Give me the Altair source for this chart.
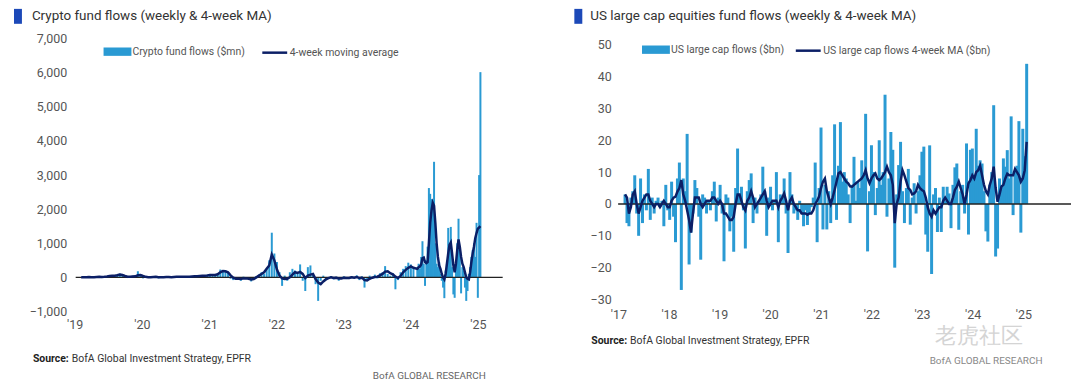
import altair as alt
import pandas as pd

FONT = "Roboto"
BAR_BLUE = "#2a9ad3"
MA_NAVY = "#0b1f66"
SQ_BLUE = "#1c49b8"

# ---------------- Crypto fund flows ($mn) ----------------
# biweekly 2019-2023, weekly 2024
crypto_2019 = [10, -15, 20, 5, -10, 15, 25, 10, -20, 30, 40, 70, 30, 60, 90, 110, 50, 20, -20, 30, 50, 20, 180, 40, -30, 10]
crypto_2020 = [-10, 20, 10, 30, -30, 10, 0, 20, 10, -10, 20, 30, 10, 20, 30, 10, 40, 20, 30, 50, 30, 60, 40, 80, 100, 60]
crypto_2021 = [60, 120, 230, 180, 200, 150, -40, -80, -60, -20, -100, 20, -50, -30, -120, -60, 40, 80, 150, 100, 250, 500, 1310, 700, 450, 150]
crypto_2022 = [-250, 50, -100, 150, 250, 200, 100, 380, -100, -400, 300, 350, 100, -200, -690, -100, 50, -80, -30, 40, -60, 20, -100, -40, 30, -50]
crypto_2023 = [-50, 40, -30, 60, -80, 30, -300, -60, 50, -40, 80, -30, 120, 150, 330, 100, 50, 120, -350, -80, 150, 250, 330, 430, 380, 300]
crypto_2024 = [300, 400, 250, 600, 1060, 400, -250, 500, 900, 2620, 2450, 2300, 2000, 3390, 1000, 400, 300, 450, 100, -100,
               -300, -610, 200, 400, 1450, 1000, 1480, 300, -500, -600, 400, 1000, 1720, 900, -470, 300, 200, -300, -690, -400,
               100, 300, 600, 800, 1000, 600, 1600, -600, 3000, 6020]

crypto_ma_2019 = [5, 0, 5, 10, 5, 5, 10, 15, 10, 15, 25, 40, 45, 50, 60, 80, 70, 40, 20, 15, 25, 30, 60, 70, 40, 15]
crypto_ma_2020 = [5, 5, 10, 15, 5, 5, 5, 10, 10, 5, 10, 15, 15, 20, 20, 15, 20, 25, 30, 35, 40, 45, 45, 55, 70, 70]
crypto_ma_2021 = [70, 90, 150, 185, 180, 150, 60, -10, -40, -40, -50, -30, -30, -40, -60, -50, 0, 50, 100, 150, 250, 350, 670, 500, 230, 50]
crypto_ma_2022 = [-30, -50, -40, 0, 80, 150, 130, 160, 100, -20, 50, 80, 100, -50, -150, -200, -120, -60, -20, 0, -20, -10, -30, -30, -10, -20]
crypto_ma_2023 = [-20, 0, -10, 10, -20, -10, -80, -90, -40, -10, 10, 20, 60, 100, 170, 180, 120, 90, 20, -20, 40, 150, 220, 280, 320, 280]
crypto_ma_2024 = [250, 300, 320, 380, 560, 580, 450, 420, 450, 1000, 1600, 1950, 2190, 2100, 1600, 1000, 600, 350, 250, 100,
                  0, -60, 100, 400, 700, 950, 1020, 700, 350, 150, 400, 800, 1110, 900, 600, 400, 300, 150, 0, -40,
                  -60, 150, 450, 700, 900, 1150, 1300, 1430, 1460, 1500]

# ---------------- US large cap equity fund flows ($bn), biweekly ----------------
us_2017 = [3, -6, -7, 2, 4, 9, -3, -10, 8, -6, 3, -2, 11, -5, 2, -3, 1, 2, -1, 1, -7, 6, -2, -5, 7, -4]
us_2018 = [-12, 8, 13, -27, 8, 4, 22, -19, -9, -3, 7.5, 5, -4, -17.5, 3, 2, -3, 1, -2, 4, 7, -5.5, 2, 6, -3, -18]
us_2019 = [3, 2, -8.6, -4, -15, 5, 17.4, 3, 5.4, -2, -14, 4, 7.5, 9.6, -6, 2, -3, 1, 3, 11.7, 4, -10, 2, 5.4, -2, 1]
us_2020 = [10, -12, 3, 2, 8, -3, -15.4, 10, 3, -3, -2, -5, 1, -3, -7, -2, -6.6, -3, -1, 2, 13, -12, 5, 24, -8, 6]
us_2021 = [-8, 4, -6, 9, 25, -5, 12, 25.7, 7, 10, 8, 3, -6, 6, 14.8, 1, 7, 5, 13.7, 9.6, 28.3, -14.9, 4, 18.4, 10, -3.5]
us_2022 = [5, 20, 6, 10, 34.3, -4, 8, 22.6, 17, -20, 3, 12.2, 19.5, 4, -6, 5, 11, -6.5, 2, 6.5, -3, 4, 9, 16.4, 18, -9.6]
us_2023 = [-15, 18.4, -22, 3, 5, -8.8, 2, -8.8, 5.4, 1, 5.4, 3.3, -7.6, 6, 11.5, 12.7, -8.1, 4, 6, -3, 19, -9.6, 17, 17.4, 8, 23.6]
us_2024 = [12, 13.7, 12.7, 4, -8.6, -11.8, 6, 10, 31, -16.5, -14, 8, 5, 14.3, 11.7, 16.9, 8, 27.5, -3.5, 10, 12, 26, -9, 23.6, 15, 44]

us_ma_2017 = [3, 2, -3, -1, 3, 4, 0, -3, -1, 1, 2, 3, 3, 1, 0, -1, 0, 0, -1, 0, 1, 0, -1, -1, 1, 2]
us_ma_2018 = [2.3, 3.9, 5, 7.5, 3, 1, -2, -5, -9, -3, 2, 2, 2, 0, -1, 0, 1, 1, 1, 2, 2, 1, 0, 1, 0, -3]
us_ma_2019 = [-3, -4, -5, -5, -4, 0, 3, 3, 1, -1, -2, 1, 2, 4, 2, -1, 0, 1, 2, 3, 4, 1, -1, 0, 1, 1]
us_ma_2020 = [1, -1, 1, 2, 3.3, 1, -2, 1, 2, 0, -1, -2, -2, -3, -3, -3, -3.4, -3, -3, -2, 0, 1, 2.3, 5, 7, 8]
us_ma_2021 = [4, 2, 0, 2, 4.4, 7, 9.6, 10, 9, 8, 7, 6.5, 5.5, 5.4, 6, 6.5, 7, 7.5, 8, 9, 10.6, 8, 6.5, 8, 9, 9.6]
us_ma_2022 = [8, 7.5, 8, 9, 10, 11.7, 10, 9, 6, -6, 0, 2, 7, 10.6, 9, 7, 5, 4.4, 3, 3.3, 4, 6, 5, 4.4, 4, 2]
us_ma_2023 = [-1, -3, -4, -2, -3, -2, -1, -1, 1, 2, 1, 0, 0, 2, 4.4, 5.4, 7, 5, 3, 0, 3, 6.5, 7.5, 9, 8, 10]
us_ma_2024 = [10.6, 12, 9, 6, 4, 3, 6, 8, 11.7, 5, 0.7, 3, 5.5, 6, 8, 9.5, 9, 9, 9, 11, 10, 9, 7, 8, 10.6, 19.5]

crypto_labels = ["Crypto fund flows ($mn)", "4-week moving average"]
us_labels = ["US large cap flows ($bn)", "US large cap flows 4-week MA ($bn)"]
crypto_yticks = [-1000, 0, 1000, 2000, 3000, 4000, 5000, 6000, 7000]
us_yticks = [-30, -20, -10, 0, 10, 20, 30, 40, 50]

# ---------------- tables ----------------
crypto_dates = list(pd.date_range("2019-01-04", periods=130, freq="14D")) + \
               list(pd.date_range("2024-01-05", periods=50, freq="7D"))
crypto_df = pd.DataFrame({
    "date": crypto_dates,
    "flow": crypto_2019 + crypto_2020 + crypto_2021 + crypto_2022 + crypto_2023 + crypto_2024,
    "ma": crypto_ma_2019 + crypto_ma_2020 + crypto_ma_2021 + crypto_ma_2022 + crypto_ma_2023 + crypto_ma_2024,
})
crypto_df["s1"] = crypto_labels[0]
crypto_df["s2"] = crypto_labels[1]

us_df = pd.DataFrame({
    "date": pd.date_range("2017-01-06", periods=208, freq="14D"),
    "flow": us_2017 + us_2018 + us_2019 + us_2020 + us_2021 + us_2022 + us_2023 + us_2024,
    "ma": us_ma_2017 + us_ma_2018 + us_ma_2019 + us_ma_2020 + us_ma_2021 + us_ma_2022 + us_ma_2023 + us_ma_2024,
})
us_df["s1"] = us_labels[0]
us_df["s2"] = us_labels[1]


def txt(text, x, y, size, color, weight="normal", align="left"):
    return alt.Chart(pd.DataFrame({"t": [text]})).mark_text(
        align=align, baseline="middle", fontSize=size, color=color, fontWeight=weight
    ).encode(text="t:N", x=alt.value(x), y=alt.value(y))


def square(x, y):
    return alt.Chart(pd.DataFrame({"a": [0]})).mark_rect(color=SQ_BLUE).encode(
        x=alt.value(x), x2=alt.value(x + 8), y=alt.value(y), y2=alt.value(y + 15)
    )


def panel(df, labels, xdomain, years, ydomain, yticks, ylabexpr, ylabpad, xlabpad, barsize,
          leg1x, leg2x, legy, title, title_dx, sq_dx, src_dx, src_dy, extras, width, height):
    xscale = alt.Scale(domain=xdomain)
    xaxis = alt.Axis(values=[alt.DateTime(year=y, month=1, date=1) for y in years],
                     labelExpr="\"'\" + timeFormat(datum.value, '%y')",
                     domain=False, ticks=False, grid=False, title=None,
                     labelColor="#555", labelFontSize=12.5, labelPadding=xlabpad,
                     labelOffset=-6, labelFlush=False, labelOverlap=False)
    yscale = alt.Scale(domain=ydomain, nice=False, zero=False)
    yaxis = alt.Axis(values=yticks, labelExpr=ylabexpr, domain=False, ticks=False, grid=False,
                     title=None, labelColor="#555", labelFontSize=12.5, labelPadding=ylabpad,
                     labelOverlap=False, labelFlush=False)
    base = alt.Chart(df)
    bars = base.mark_bar(size=barsize).encode(
        x=alt.X("date:T", scale=xscale, axis=xaxis),
        y=alt.Y("flow:Q", scale=yscale, axis=yaxis, stack=None),
        fill=alt.Fill("s1:N", scale=alt.Scale(domain=[labels[0]], range=[BAR_BLUE]),
                      legend=alt.Legend(title=None, orient="none", legendX=leg1x, legendY=legy,
                                        symbolType="M-1,-0.3H1V0.3H-1Z", symbolSize=784,
                                        symbolStrokeWidth=0, labelFontSize=10.5, labelLimit=300,
                                        labelColor="#555", labelOffset=1, padding=0)),
    )
    zero = alt.Chart(pd.DataFrame({"y": [0]})).mark_rule(color="#222", strokeWidth=1.4).encode(
        y=alt.Y("y:Q", scale=yscale, axis=yaxis)
    )
    line = base.mark_line(strokeWidth=2.5).encode(
        x=alt.X("date:T", scale=xscale, axis=xaxis),
        y=alt.Y("ma:Q", scale=yscale, axis=yaxis),
        stroke=alt.Stroke("s2:N", scale=alt.Scale(domain=[labels[1]], range=[MA_NAVY]),
                          legend=alt.Legend(title=None, orient="none", legendX=leg2x, legendY=legy + 1,
                                            symbolType="stroke", symbolSize=625, labelLimit=300,
                                            symbolStrokeWidth=2.5, labelFontSize=10.5,
                                            labelColor="#555", labelOffset=1, padding=0)),
    )
    layers = [bars, zero, line,
              square(sq_dx, -30),
              txt(title, title_dx, -23, 13.5, "#333"),
              txt("Source:", src_dx, src_dy, 10.5, "#222", weight="bold"),
              txt("BofA Global Investment Strategy, EPFR", src_dx + 39, src_dy, 10.5, "#333")] + extras
    return alt.layer(*layers).properties(width=width, height=height)


left = panel(
    crypto_df, crypto_labels,
    [alt.DateTime(year=2019, month=1, date=1), alt.DateTime(year=2025, month=3, date=17)],
    list(range(2019, 2026)), [-1000, 7000], crypto_yticks, "format(datum.value, ',')", 9, 7, 2,
    28, 186, -1, "Crypto fund flows (weekly & 4-week MA)", -44, -62, -43, 322,
    [txt("BofA GLOBAL RESEARCH", 412, 339, 10, "#666", align="right")],
    429, 274,
)

right = panel(
    us_df, us_labels,
    [alt.DateTime(year=2016, month=12, date=23), alt.DateTime(year=2025, month=9, date=23)],
    list(range(2017, 2026)), [-33.75, 51.875], us_yticks, "format(datum.value, 'd')", 7, -3, 3,
    24, 177, -3, "US large cap equities fund flows (weekly & 4-week MA)", -28, -44, -27, 304,
    [txt("老虎社区", 318, 299, 22, "#d4d4d4"),
     txt("BofA GLOBAL RESEARCH", 313, 324, 10, "#888")],
    455, 274,
)

chart = alt.hconcat(left, right, spacing=71).resolve_scale(
    x="independent", y="independent", fill="independent", stroke="independent"
).resolve_legend(fill="independent", stroke="independent").properties(
    padding={"left": 6, "top": 0, "right": 0, "bottom": 0}
).configure(font=FONT).configure_view(stroke=None)

chart.save("out.html", embed_options={"renderer": "svg", "actions": False})
